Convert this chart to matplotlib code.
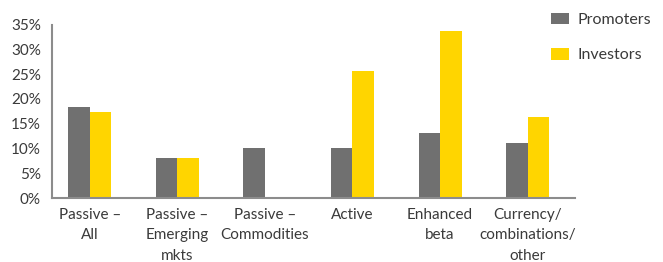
import numpy as np
import matplotlib
matplotlib.use("Agg")
import matplotlib.pyplot as plt
from matplotlib.patches import Patch

# ---------------------------
# Data
# ---------------------------
CATEGORIES = [
    "Passive –\nAll",
    "Passive –\nEmerging\nmkts",
    "Passive –\nCommodities",
    "Active",
    "Enhanced\nbeta",
    "Currency/\ncombinations/\nother",
]
PROMOTERS = [18.3, 8.0, 10.0, 10.0, 13.2, 11.1]
INVESTORS = [17.3, 8.0, 0.0, 25.6, 33.7, 16.3]
Y_TICKS = [0, 5, 10, 15, 20, 25, 30, 35]

GREY = "#707070"
YELLOW = "#FFD500"
TEXT = "#3a3a3a"
AXIS = "#8c8c8c"

plt.rcParams["font.family"] = ["Lato", "DejaVu Sans"]

fig = plt.figure(figsize=(6.63, 2.62), dpi=100)
ax = fig.add_axes([52 / 663, 64 / 262, (575 - 52) / 663, (198 - 24.5) / 262])

x = np.arange(len(CATEGORIES))
w = 0.245
ax.bar(x - w / 2, PROMOTERS, width=w, color=GREY, linewidth=0)
ax.bar(x + w / 2, INVESTORS, width=w, color=YELLOW, linewidth=0)

ax.set_xlim(-0.43, 5.54)
ax.set_ylim(0, 35)
ax.set_yticks(Y_TICKS)
ax.set_yticklabels([f"{t}%" for t in Y_TICKS], fontsize=11, color=TEXT)
ax.set_xticks(x)
ax.set_xticklabels(CATEGORIES, fontsize=11, color=TEXT, linespacing=1.6,
                   va="top")
ax.tick_params(axis="both", length=0)
ax.tick_params(axis="x", pad=7)
ax.tick_params(axis="y", pad=8)

for side in ("top", "right"):
    ax.spines[side].set_visible(False)
for side in ("left", "bottom"):
    ax.spines[side].set_color(AXIS)
    ax.spines[side].set_linewidth(1.5)

handles = [Patch(facecolor=GREY, edgecolor="none", label="Promoters"),
           Patch(facecolor=YELLOW, edgecolor="none", label="Investors")]
fig.legend(handles=handles, loc="upper left", bbox_to_anchor=(538 / 663, 1.0),
           frameon=False, fontsize=11.5, labelcolor=TEXT,
           handlelength=1.15, handleheight=0.75, handletextpad=0.5,
           labelspacing=1.3, borderaxespad=0.4)

fig.savefig("out.png", dpi=100)
